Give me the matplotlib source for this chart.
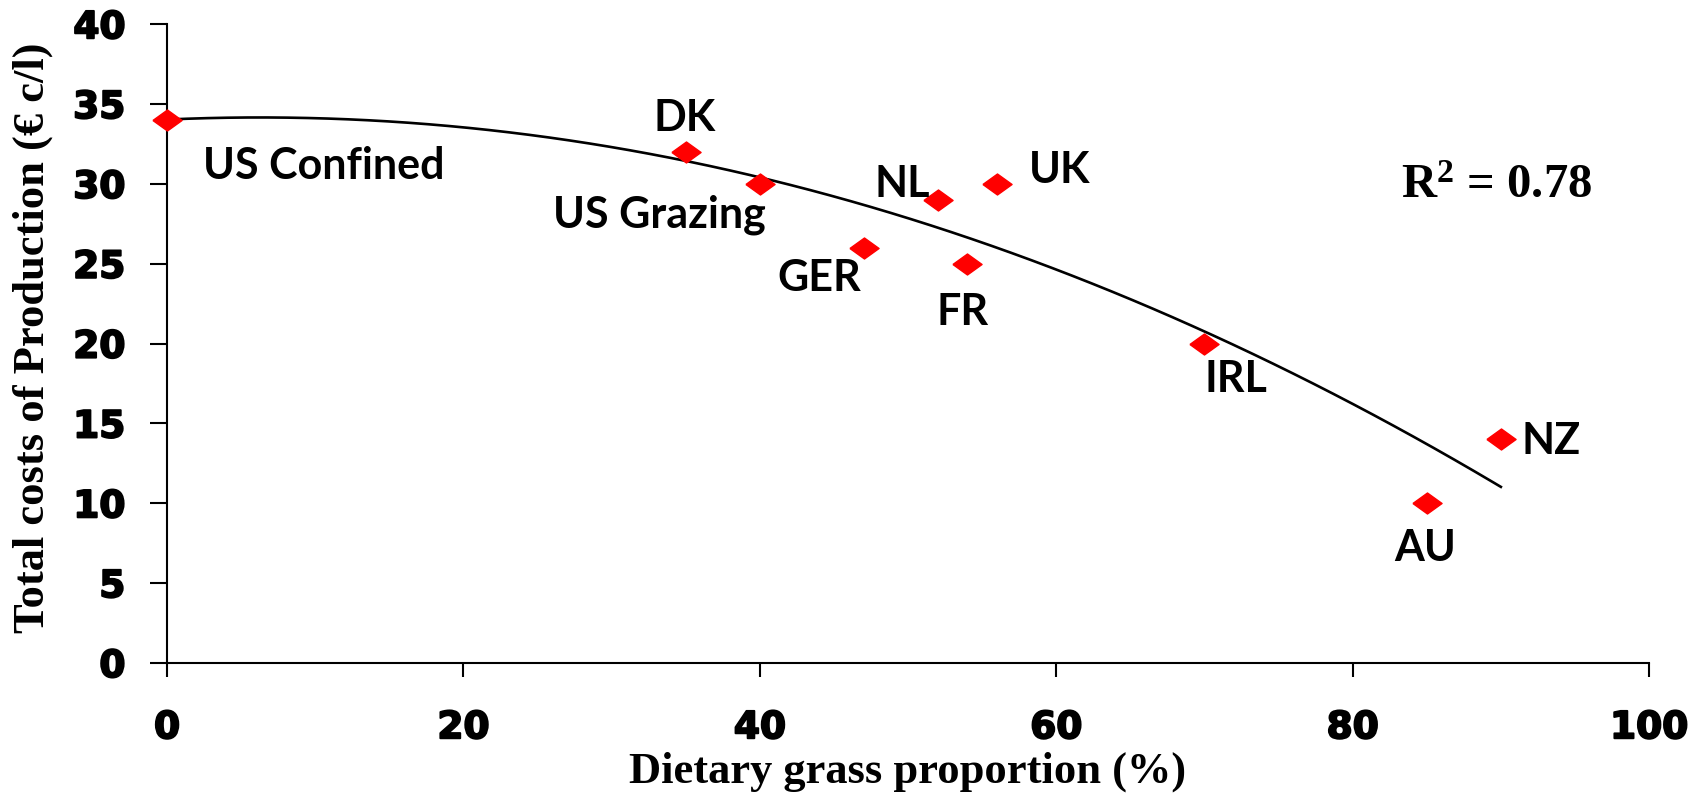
import matplotlib
matplotlib.use("Agg")
import matplotlib.pyplot as plt
import matplotlib.patheffects as pe
import numpy as np

# data
countries = ["US Confined", "DK", "US Grazing", "GER", "NL", "UK", "FR", "IRL", "AU", "NZ"]
grass_pct = [0, 35, 40, 47, 52, 56, 54, 70, 85, 90]
cost_ct = [34, 32, 30, 26, 29, 30, 25, 20, 10, 14]
r2_text = r"$\mathbf{R^2}$ = 0.78"

# where each country label sits (data coords)
label_pos = {
    "US Confined": (10.6, 31.1),
    "DK": (34.9, 34.1),
    "US Grazing": (33.2, 28.05),
    "GER": (44.0, 24.1),
    "NL": (49.6, 30.0),
    "UK": (60.2, 30.9),
    "FR": (53.7, 22.0),
    "IRL": (72.1, 17.8),
    "AU": (84.9, 7.2),
    "NZ": (93.4, 13.9),
}

plt.rcParams["mathtext.fontset"] = "custom"
plt.rcParams["mathtext.bf"] = "Liberation Serif:bold"
plt.rcParams["mathtext.rm"] = "Liberation Serif:bold"

fig = plt.figure(figsize=(17.08, 7.93), dpi=100)
ax = fig.add_axes([0.0978, 0.1639, 0.8677, 0.8055])

# 2nd order trendline like the excel one
coef = np.polyfit(grass_pct, cost_ct, 2)
xx = np.linspace(min(grass_pct), max(grass_pct), 200)
ax.plot(xx, np.polyval(coef, xx), color="black", lw=1.9, zorder=2)

diamond = [(-1, 0), (0, 0.72), (1, 0), (0, -0.72), (-1, 0)]
ax.plot(grass_pct, cost_ct, linestyle="none", marker=diamond, ms=21,
        color="#ff0000", mec="#ff0000", clip_on=False, zorder=3)

for name in countries:
    lx, ly = label_pos[name]
    ax.text(lx, ly, name, ha="center", va="center", fontsize=31,
            fontweight="bold", family="Lato")

ax.text(89.7, 29.9, r2_text, ha="center", va="center", fontsize=35,
        fontweight="bold", family="Liberation Serif")

ax.set_xlim(0, 100)
ax.set_ylim(0, 40)
ax.set_xticks(np.arange(0, 101, 20))
ax.set_yticks(np.arange(0, 41, 5))
for s in ["top", "right"]:
    ax.spines[s].set_visible(False)
for s in ["left", "bottom"]:
    ax.spines[s].set_linewidth(1.5)
ax.tick_params(axis="y", direction="out", length=12, width=1.5, pad=18,
               labelsize=27)
ax.tick_params(axis="x", direction="out", length=10, width=1.5, pad=24,
               labelsize=27)
heavy = [pe.withStroke(linewidth=1.4, foreground="black")]
for lab in ax.get_xticklabels() + ax.get_yticklabels():
    lab.set_fontweight("bold")
    lab.set_family("DejaVu Sans")
    lab.set_path_effects(heavy)

ax.set_xlabel("Dietary grass proportion (%)", fontsize=32, fontweight="bold",
              family="Liberation Serif")
ax.xaxis.label.set_va("baseline")
ax.xaxis.set_label_coords(0.5, -0.1863)
ax.set_ylabel("Total costs of Production (€ c/l)", fontsize=32,
              fontweight="bold", family="Liberation Serif")
ax.yaxis.label.set_va("center")
ax.yaxis.set_label_coords(-0.0904, 0.509)

plt.savefig("out.png", dpi=100)
